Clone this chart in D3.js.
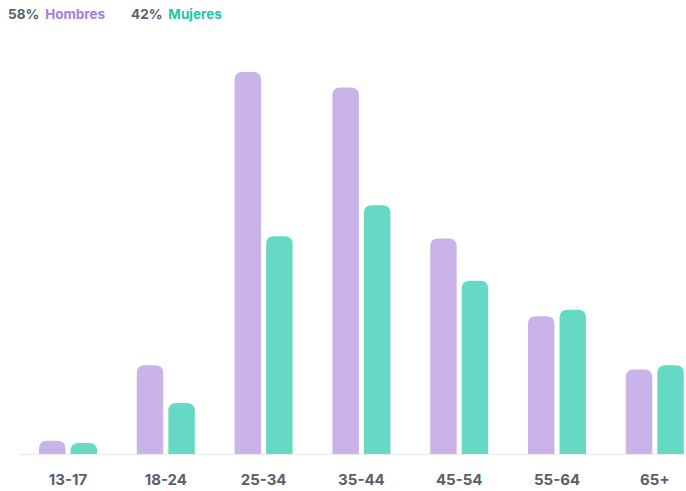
<!DOCTYPE html>
<html><head><meta charset="utf-8">
<script src="https://cdn.jsdelivr.net/npm/d3@7"></script>
<style>body{margin:0;background:#fff;} svg{display:block;font-family:Inter,"Open Sans",sans-serif;}</style>
</head><body><div id="c"></div>
<script>
const categories = ["13-17","18-24","25-34","35-44","45-54","55-64","65+"];
const hombres = [0.6, 4.0, 17.2, 16.5, 9.7, 6.2, 3.8];
const mujeres = [0.5, 2.3, 9.8, 11.2, 7.8, 6.5, 4.0];
const seriesNames = ["Hombres","Mujeres"];
const seriesShare = ["58%","42%"];
const barColors = ["#c9b3e8","#66d9c4"];
const textColors = ["#a47de0","#1fc6a6"];

(function(){
const W=686,H=491;
const svg=d3.select("#c").append("svg").attr("width",W).attr("height",H);
const base=454, plotTop=72;
const x0=d3.scaleBand().domain(categories).range([19.1,703.7]).paddingInner(0.407).paddingOuter(0.2035);
const x1=d3.scaleBand().domain(seriesNames).range([0,x0.bandwidth()]).paddingInner(0.16);
const y=d3.scaleLinear().domain([0,17.2]).range([base,plotTop]);

svg.append("line").attr("x1",18).attr("x2",686).attr("y1",base+0.5).attr("y2",base+0.5).attr("stroke","#eeeeef").attr("stroke-width",1.5);

function topRounded(x,yt,w,h,r){
  r=Math.min(r,h,w/2);
  return `M${x},${yt+h}V${yt+r}Q${x},${yt} ${x+r},${yt}H${x+w-r}Q${x+w},${yt} ${x+w},${yt+r}V${yt+h}Z`;
}
const data=[hombres,mujeres];
seriesNames.forEach((s,si)=>{
  svg.append("g").selectAll("path").data(categories).join("path")
    .attr("d",(c,i)=>{const v=data[si][i];const yt=y(v);return topRounded(x0(c)+x1(s),yt,x1.bandwidth(),base-yt,8);})
    .attr("fill",barColors[si]);
});

const xa=svg.append("g").attr("transform",`translate(0,${base})`).call(d3.axisBottom(x0).tickSize(0).tickPadding(20));
xa.select(".domain").remove();
xa.selectAll("text").attr("font-size",15).attr("font-weight",700).attr("fill","#5a6068").attr("font-family","Inter,sans-serif");

const leg=svg.append("g");
const legX=[8,131];
seriesNames.forEach((s,i)=>{
  const t=leg.append("text").attr("x",legX[i]).attr("y",19).attr("font-size",13.5).attr("font-weight",700);
  t.append("tspan").attr("fill","#5a6068").text(seriesShare[i]);
  t.append("tspan").attr("dx",6).attr("fill",textColors[i]).text(s);
});
})();
</script></body></html>
